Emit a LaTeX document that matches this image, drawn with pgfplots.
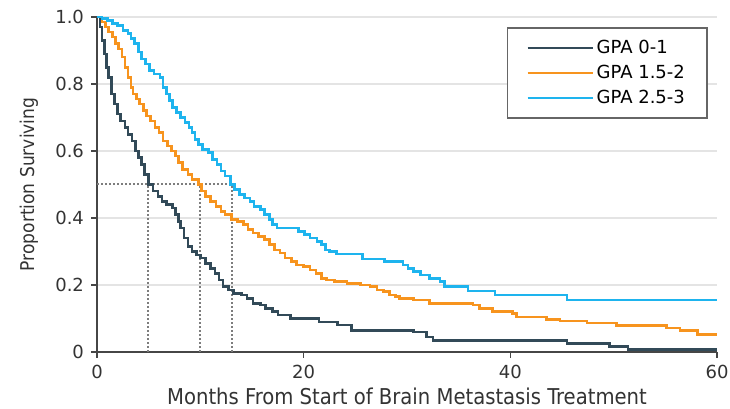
\documentclass[border=0pt]{standalone}
\usepackage{fontspec}
\setmainfont{DejaVu Sans}
\newfontfamily\condfont{DejaVu Sans Condensed}
\usepackage{pgfplots}
\pgfplotsset{compat=1.18}
\usetikzlibrary{calc}
\definecolor{cdark}{RGB}{50,74,88}
\definecolor{corange}{RGB}{247,148,30}
\definecolor{cblue}{RGB}{30,180,238}
\definecolor{axisgray}{RGB}{70,70,70}
\definecolor{gridgray}{RGB}{228,228,228}
\definecolor{dotgray}{RGB}{125,125,125}
\begin{document}
\begin{tikzpicture}
\begin{axis}[
  scale only axis, width=310pt, height=167.5pt,
  xmin=0, xmax=60, ymin=0, ymax=1,
  axis x line=bottom, axis y line=left,
  axis line style={-, draw=axisgray, line width=0.8pt},
  xtick={0,20,40,60}, xticklabels={0,20,40,60},
  ytick={0,0.2,0.4,0.6,0.8,1.0}, yticklabels={0,0.2,0.4,0.6,0.8,1.0},
  ymajorgrids, grid style={line width=1pt, draw=gridgray},
  tick align=outside, major tick length=3pt,
  tick style={draw=axisgray, line width=0.6pt},
  ticklabel style={font=\fontsize{9}{10}\selectfont, text=black!80},
  /pgf/number format/assume math mode=true,
  xlabel={Months From Start of Brain Metastasis Treatment},
  ylabel={Proportion Surviving},
  xlabel style={font=\condfont\fontsize{10.9}{12}\selectfont, text=black!80, at={(axis description cs:0.5,-0.156)}, anchor=base},
  ylabel style={font=\condfont\fontsize{9.5}{11}\selectfont, text=black!80, at={(axis description cs:-0.11,0.5)}, anchor=center},
  legend style={at={(0.985,0.969)}, anchor=north east, draw=black!60, line width=0.8pt, fill=white,
    font=\fontsize{9}{10}\selectfont, inner xsep=9.5pt, inner ysep=4.5pt, row sep=1.2pt,
    nodes={inner sep=1.5pt}},
  legend cell align=left,
  legend image code/.code={\draw[#1, sharp plot, line width=1pt] (0pt,0pt) -- (32.5pt,0pt);},
]
% median dotted guides
\addplot[dotgray, line width=1pt, dash pattern=on 1pt off 1pt, forget plot] coordinates {(0,0.5) (13.2,0.5)};
\addplot[dotgray, line width=1pt, dash pattern=on 1pt off 1pt, forget plot] coordinates {(4.95,0) (4.95,0.5)};
\addplot[dotgray, line width=1pt, dash pattern=on 1pt off 1pt, forget plot] coordinates {(9.95,0) (9.95,0.5)};
\addplot[dotgray, line width=1pt, dash pattern=on 1pt off 1pt, forget plot] coordinates {(13.05,0) (13.05,0.5)};
% GPA 0-1
\addplot[const plot, cdark, line width=1.3pt] table {
x y
0 1.0
0.3 0.97
0.5 0.93
0.7 0.89
0.9 0.85
1.1 0.82
1.4 0.77
1.7 0.74
2.0 0.71
2.3 0.69
2.7 0.67
3.0 0.65
3.4 0.63
3.7 0.60
4.0 0.58
4.3 0.56
4.6 0.53
5.0 0.50
5.4 0.48
5.9 0.465
6.3 0.45
6.7 0.44
7.3 0.43
7.6 0.41
7.9 0.39
8.1 0.37
8.4 0.34
8.8 0.315
9.2 0.30
9.6 0.29
10.0 0.28
10.5 0.265
11.0 0.25
11.4 0.235
11.8 0.215
12.2 0.195
12.7 0.185
13.2 0.175
14.0 0.17
14.5 0.16
15.1 0.145
15.8 0.14
16.3 0.13
17.0 0.12
17.5 0.11
18.7 0.10
21.5 0.09
23.3 0.08
24.6 0.065
30.6 0.06
31.9 0.045
32.5 0.035
45.5 0.026
49.6 0.016
51.4 0.008
60 0.008
};
% GPA 1.5-2
\addplot[const plot, corange, line width=1.3pt] table {
x y
0 1.0
0.5 0.985
0.8 0.97
1.1 0.955
1.5 0.94
1.8 0.92
2.1 0.905
2.4 0.88
2.7 0.85
3.0 0.82
3.3 0.79
3.5 0.77
3.8 0.755
4.1 0.74
4.5 0.72
4.8 0.705
5.2 0.69
5.6 0.67
6.0 0.655
6.4 0.63
6.8 0.615
7.2 0.60
7.6 0.585
7.9 0.565
8.3 0.545
8.8 0.53
9.2 0.515
9.8 0.50
10.1 0.48
10.5 0.465
11.0 0.45
11.5 0.435
12.0 0.42
12.4 0.41
13.0 0.395
13.6 0.39
14.2 0.38
14.6 0.365
15.1 0.355
15.6 0.345
16.2 0.335
16.7 0.32
17.2 0.305
17.7 0.295
18.2 0.28
18.8 0.27
19.3 0.26
20.0 0.255
20.6 0.245
21.2 0.235
21.7 0.22
22.2 0.215
23.0 0.21
24.2 0.205
25.5 0.20
26.4 0.195
27.1 0.185
27.7 0.18
28.3 0.17
28.9 0.165
29.3 0.16
30.6 0.155
32.2 0.145
36.4 0.14
37.0 0.13
38.3 0.12
40.2 0.115
40.6 0.105
43.5 0.097
44.8 0.092
47.4 0.086
50.3 0.079
55.1 0.072
56.4 0.064
58.1 0.052
60 0.052
};
% GPA 2.5-3
\addplot[const plot, cblue, line width=1.3pt] table {
x y
0 1.0
0.5 0.995
1.0 0.99
1.5 0.98
2.0 0.975
2.5 0.96
3.0 0.95
3.3 0.935
3.6 0.92
4.0 0.895
4.3 0.875
4.7 0.86
5.1 0.84
5.5 0.83
6.1 0.82
6.4 0.79
6.7 0.77
7.0 0.75
7.3 0.73
7.7 0.715
8.1 0.70
8.5 0.685
8.9 0.67
9.2 0.655
9.5 0.635
9.8 0.62
10.2 0.605
10.8 0.595
11.2 0.575
11.6 0.56
12.0 0.54
12.4 0.525
12.9 0.50
13.3 0.485
13.8 0.47
14.3 0.46
14.8 0.45
15.2 0.435
15.8 0.425
16.2 0.41
16.7 0.395
17.0 0.38
17.4 0.37
19.5 0.36
20.1 0.35
20.6 0.34
21.3 0.33
21.7 0.32
22.1 0.305
22.5 0.30
23.2 0.293
25.7 0.277
27.8 0.27
29.6 0.26
30.1 0.25
30.6 0.24
31.3 0.23
32.2 0.22
33.2 0.21
33.6 0.196
35.9 0.182
38.5 0.17
45.5 0.155
60 0.155
};
\legend{GPA 0-1, GPA 1.5-2, GPA 2.5-3}
\end{axis}
\pgfresetboundingbox
\path ($(current axis.south west)+(-48.5pt,-28.5pt)$) rectangle ($(current axis.north east)+(6.5pt,8.5pt)$);
\end{tikzpicture}
\end{document}
